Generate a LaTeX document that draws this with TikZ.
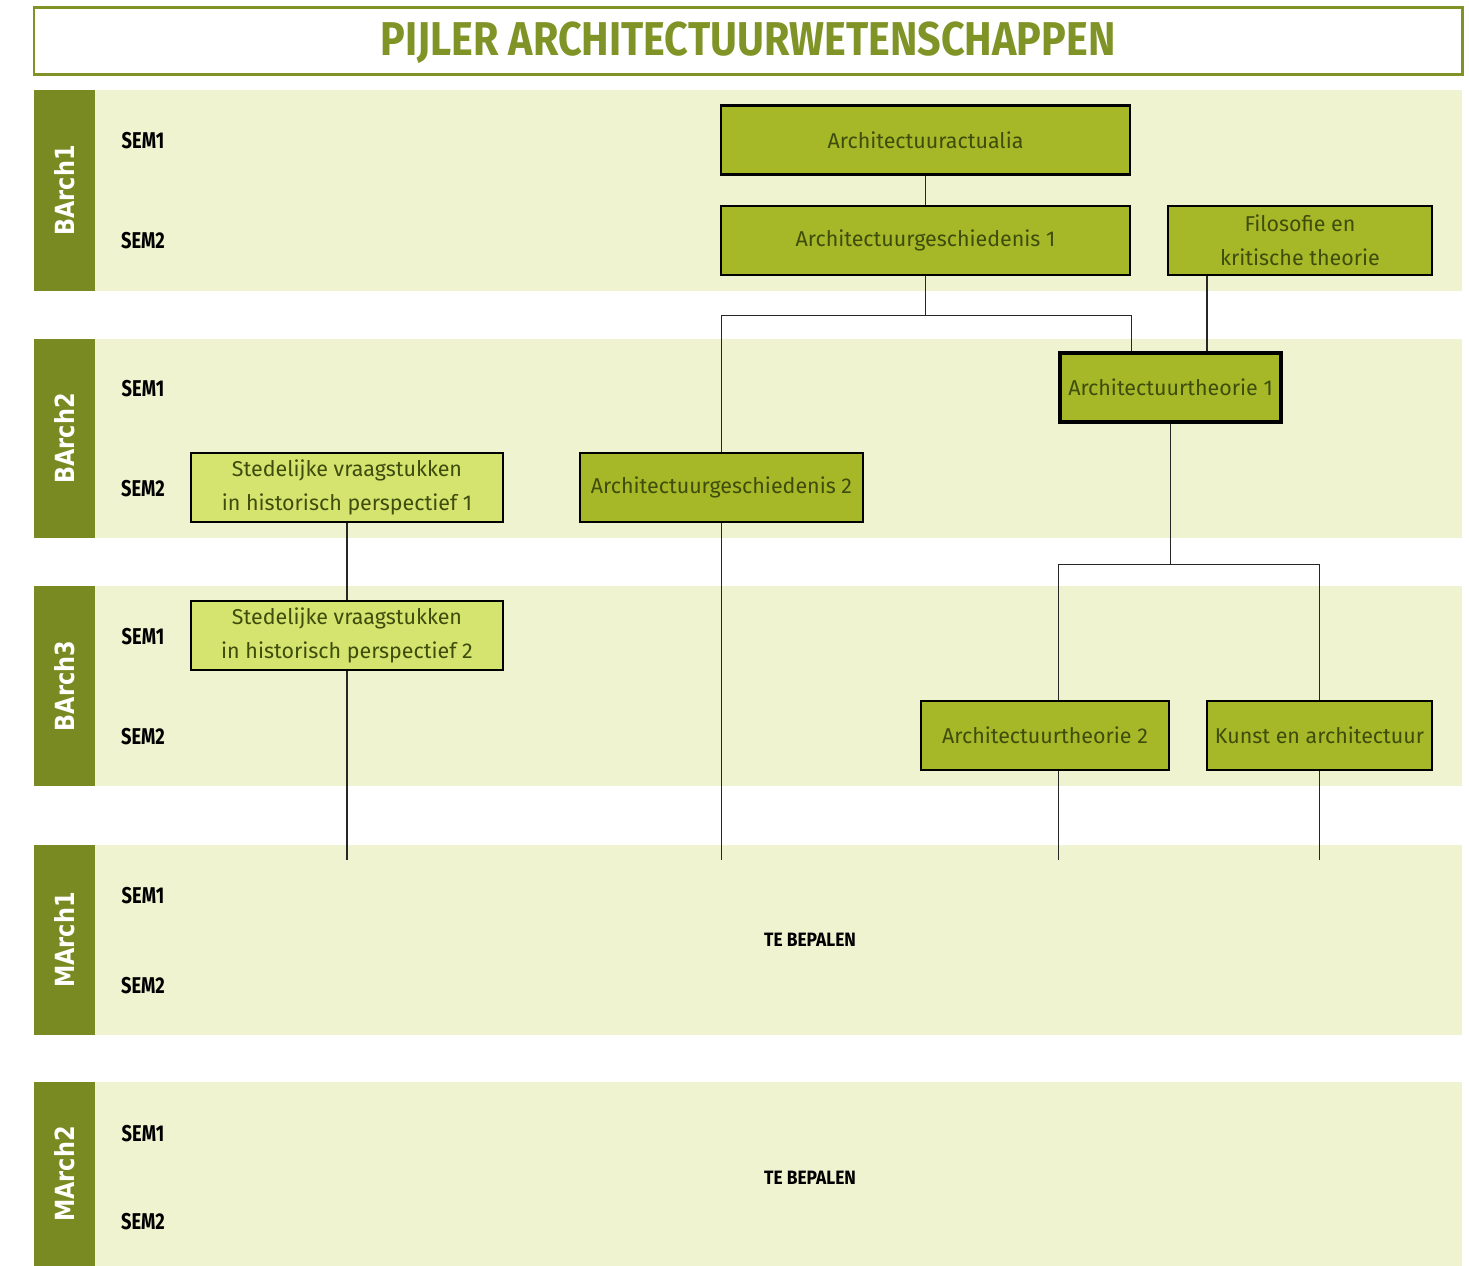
\documentclass[tikz,border=0pt]{standalone}
\usepackage{fontspec}
\setmainfont{Fira Sans}
\newfontfamily\narrowfont{Fira Sans}[FakeStretch=0.8]
\newfontfamily\titlefont{Fira Sans}[FakeStretch=0.87]
\newfontfamily\tbdfont{Fira Sans}[FakeStretch=0.9]
\newfontfamily\yearfont{DejaVu Sans}[FakeStretch=0.85]
\usepackage {tikz}
\usetikzlibrary{positioning}

\definecolor{olive}{RGB}{122,138,34}
\definecolor{titlegreen}{RGB}{128,147,38}
\definecolor{bandfill}{RGB}{239,243,208}
\definecolor{boxdark}{RGB}{166,184,40}
\definecolor{boxlight}{RGB}{213,227,111}
\definecolor{boxtext}{RGB}{62,76,12}

\begin{document}
\begin{tikzpicture}[x=0.02cm, y=-0.02cm,
    coursebox/.style={rectangle, draw=black, line width=1.2pt, fill=boxdark, text=boxtext,
      font=\fontsize{12.2}{19.5}\selectfont, align=center, minimum height=1.38cm, inner sep=2pt},
    lightbox/.style={coursebox, fill=boxlight},
    semlabel/.style={font=\narrowfont\bfseries\fontsize{13}{15}\selectfont, text=black},
    yearlabel/.style={rotate=90, text=white, font=\yearfont\bfseries\fontsize{15}{17}\selectfont},
    link/.style={draw=black!85, line width=0.6pt}]
    \useasboundingbox (0,0) rectangle (1469,1266);

    %Title
    \draw[titlegreen, line width=1.7pt] (34,8) rectangle (1462,75);
    \node[text=titlegreen, font=\titlefont\bfseries\fontsize{27}{30}\selectfont] (title) at (748,43) {PIJLER ARCHITECTUURWETENSCHAPPEN};

    %Bands
    \foreach \top/\bot/\semA/\semB/\name in {90/291/141/241/BArch1, 339/538/389/489/BArch2,
        586/786/637/737/BArch3, 845/1035/896/986/MArch1, 1082/1266/1134/1222/MArch2} {
      \fill[bandfill] (95,\top) rectangle (1462,\bot);
      \fill[olive] (34,\top) rectangle (95,\bot);
      \node[yearlabel] (\name) at (64.5,{(\top+\bot)/2}) {\name};
      \node[semlabel] (\name-sem1) at (143,\semA) {SEM1};
      \node[semlabel] (\name-sem2) at (143,\semB) {SEM2};
    }
    \node[font=\tbdfont\bfseries\fontsize{11}{13}\selectfont] (tbd1) at (810,940) {TE BEPALEN};
    \node[font=\tbdfont\bfseries\fontsize{11}{13}\selectfont] (tbd2) at (810,1178) {TE BEPALEN};

    %Nodes
    \node[coursebox, minimum width=8.18cm] (actualia) at (925.5,140) {Architectuuractualia};
    \node[coursebox, minimum width=8.18cm] (gesch1) at (925.5,240.5) {Architectuurgeschiedenis 1};
    \node[coursebox, minimum width=5.28cm] (filosofie) at (1300,240.5) {Filosofie en\\kritische theorie};
    \node[coursebox, minimum width=4.42cm, line width=1.8pt] (theorie1) at (1170.5,387.5) {Architectuurtheorie 1};
    \node[lightbox, minimum width=6.24cm] (stad1) at (347,487.5) {Stedelijke vraagstukken\\in historisch perspectief 1};
    \node[coursebox, minimum width=5.66cm] (gesch2) at (721.5,487.5) {Architectuurgeschiedenis 2};
    \node[lightbox, minimum width=6.24cm] (stad2) at (347,635.5) {Stedelijke vraagstukken\\in historisch perspectief 2};
    \node[coursebox, minimum width=4.96cm] (theorie2) at (1045,735.5) {Architectuurtheorie 2};
    \node[coursebox, minimum width=4.5cm] (kunst) at (1319.5,735.5) {Kunst en architectuur};
    \coordinate (ends) at (0,860);

    %Lines
    \draw[link] (actualia.south) -- (gesch1.north);
    \draw[link] (gesch1.south) -- ++(0,39) coordinate (split1);
    \draw[link] (gesch2.north) |- (split1) -| (theorie1.north -| gesch1.east);
    \draw[link] ([xshift=0.8cm]filosofie.south west) -- ([xshift=0.8cm]filosofie.south west |- theorie1.north);
    \draw[link] (theorie1.south) -- ++(0,141) coordinate (split2);
    \draw[link] (theorie2.north -| theorie1.west) |- (split2) -| (kunst.north);
    \draw[link] (stad1.south) -- (stad2.north);
    \draw[link] (stad2.south) -- (stad2.south |- ends);
    \draw[link] (gesch2.south) -- (gesch2.south |- ends);
    \draw[link] (theorie2.south -| theorie1.west) -- (ends -| theorie1.west);
    \draw[link] (kunst.south) -- (kunst.south |- ends);
  \end{tikzpicture}
\end{document}
